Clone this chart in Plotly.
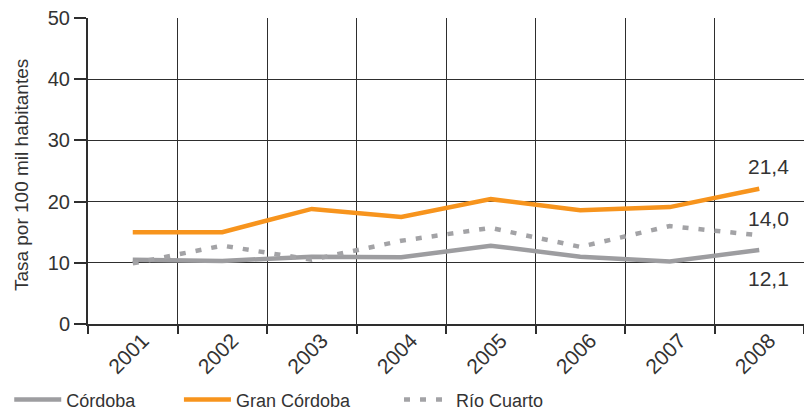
import plotly.graph_objects as go

years = ["2001", "2002", "2003", "2004", "2005", "2006", "2007", "2008"]
cordoba = [10.5, 10.3, 11.0, 10.9, 12.8, 11.0, 10.2, 12.1]
gran_cordoba = [15.0, 15.0, 18.8, 17.5, 20.4, 18.6, 19.1, 22.1]
rio_cuarto = [9.9, 12.8, 10.5, 13.6, 15.7, 12.6, 16.0, 14.5]
end_labels = ["21,4", "14,0", "12,1"]

font_main = "Liberation Sans"
txt = "#333333"

fig = go.Figure()

fig.add_trace(go.Scatter(x=years, y=cordoba, name="Córdoba", mode="lines",
                         line=dict(color="#9d9da0", width=4.5), legend="legend2"))
fig.add_trace(go.Scatter(x=years, y=gran_cordoba, name="Gran Córdoba", mode="lines",
                         line=dict(color="#f7941d", width=4.5), legend="legend3"))
fig.add_trace(go.Scatter(x=years, y=rio_cuarto, name="Río Cuarto", mode="lines",
                         line=dict(color="#a3a3a6", width=4.5, dash="6px,10px"), legend="legend4"))

# end-of-line value labels
label_y = [25.8, 17.3, 7.5]
for t, yy in zip(end_labels, label_y):
    fig.add_annotation(x=len(years) - 1, y=yy, text=t, showarrow=False, xshift=9,
                       font=dict(family=font_main, size=21, color=txt))

# y axis title placed by hand (plotly puts it too close to the ticks)
fig.add_annotation(xref="paper", yref="paper", x=-0.092, y=0.487, textangle=-90,
                   xanchor="center", yanchor="middle",
                   text="Tasa por 100 mil habitantes", showarrow=False,
                   font=dict(family=font_main, size=19, color=txt))

fig.update_xaxes(type="category", categoryorder="array", categoryarray=years,
                 range=[-0.5, len(years) - 0.5], tickson="boundaries", showgrid=True,
                 gridcolor="#2e2e2e", gridwidth=1, ticks="outside", ticklen=8,
                 tickcolor="#2e2e2e", tickwidth=2, showline=True, linecolor="#2e2e2e",
                 linewidth=2, tickangle=-45, automargin=False,
                 ticklabelshift=10, ticklabelstandoff=-6,
                 tickfont=dict(family=font_main, size=21, color=txt))
fig.update_yaxes(range=[0, 50], tickvals=[0, 10, 20, 30, 40, 50], showgrid=True,
                 gridcolor="#2e2e2e", gridwidth=1, zeroline=False, ticks="outside",
                 ticklen=12, tickcolor="#2e2e2e", tickwidth=2, showline=True,
                 linecolor="#2e2e2e", linewidth=2, automargin=False,
                 ticklabeloverflow="allow",
                 tickfont=dict(family=font_main, size=20, color=txt))

# page body adds ~8px offset, so the figure is a bit smaller than the window
leg = dict(orientation="h", yanchor="middle", y=-0.248, xanchor="left",
           bgcolor="rgba(0,0,0,0)", itemwidth=47,
           font=dict(family=font_main, size=18, color=txt))
fig.update_layout(
    width=804, height=403,
    margin=dict(l=80, r=8, t=10, b=87, autoexpand=False),
    paper_bgcolor="white", plot_bgcolor="white",
    showlegend=True,
    legend2=dict(leg, x=-0.11),
    legend3=dict(leg, x=0.127),
    legend4=dict(leg, x=0.4344),
)

fig.write_html("out.html")
